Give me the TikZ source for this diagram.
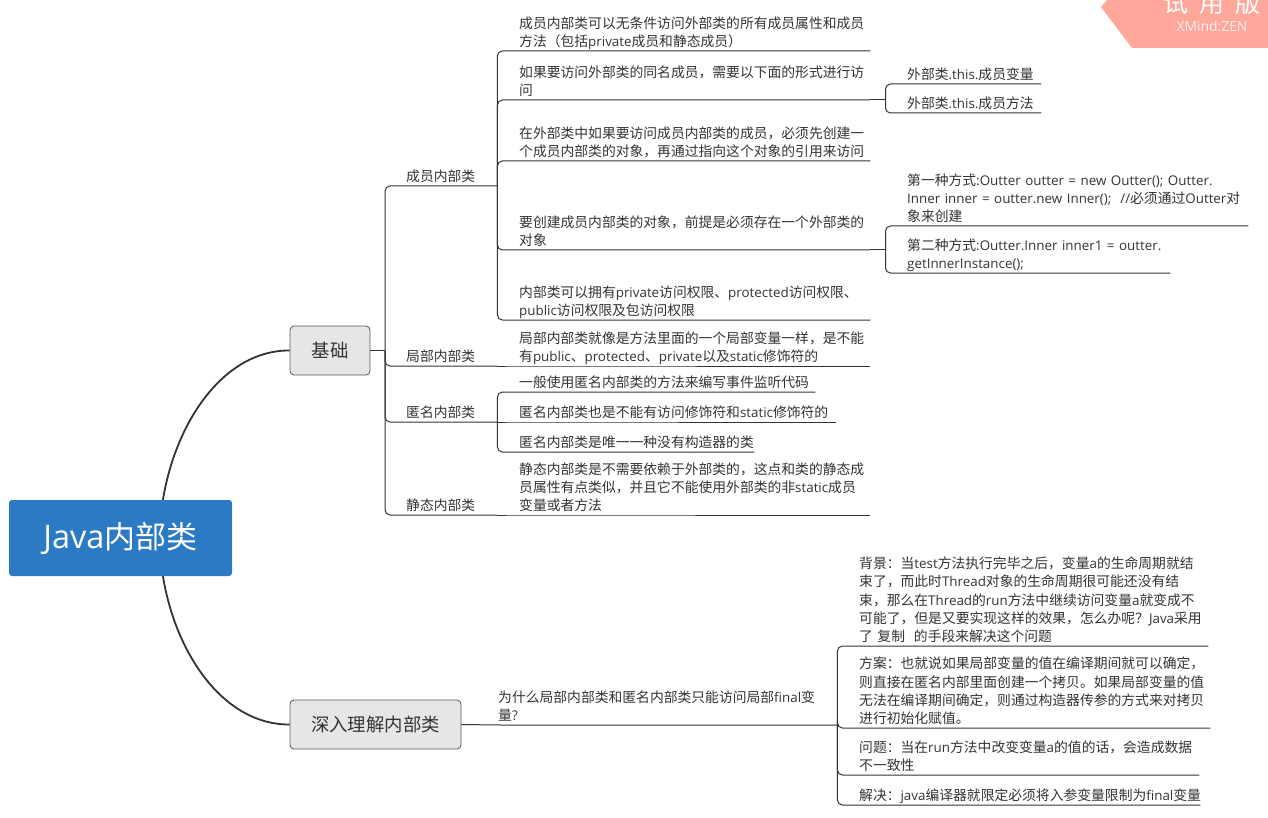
\documentclass[tikz,border=0pt]{standalone}
\usepackage{fontspec}
\setmainfont[Scale=0.97]{Open Sans}
\newfontfamily\cjk{Noto Sans CJK SC}
\usetikzlibrary{positioning}
% CJK characters switch to the CJK family
\newXeTeXintercharclass\cjkclass
\XeTeXinterchartokenstate=1
\newcount\cjkchar
\newcommand{\cjkrange}[2]{%
  \cjkchar=#1
  \loop
    \XeTeXcharclass\cjkchar=\cjkclass
    \advance\cjkchar by 1
  \ifnum\cjkchar<#2 \repeat}
\cjkrange{"3000}{"3040}
\cjkrange{"4E00}{"A000}
\cjkrange{"FF00}{"FF60}
\XeTeXinterchartoks 0 \cjkclass={\begingroup\cjk}
\XeTeXinterchartoks 4095 \cjkclass={\begingroup\cjk}
\XeTeXinterchartoks \cjkclass 0={\endgroup}
\XeTeXinterchartoks \cjkclass 4095={\endgroup}
\definecolor{rootblue}{HTML}{2B7AC3}
\definecolor{inkgray}{HTML}{333333}
\definecolor{boxgray}{HTML}{E6E6E6}
\definecolor{trialred}{HTML}{FFA79B}

\begin{document}
\begin{tikzpicture}[
      x=1pt,
      y=-1pt,
      topic/.style={
        anchor=south west,
        align=left,
        inner sep=0pt,
        execute at end node={\rule[-4pt]{0pt}{0pt}},
        text=inkgray,
        font={\fontsize{13.8}{18.3}\selectfont\lineskiplimit-6pt\relax}
      },
      mainbox/.style={
        draw=black!65,
        line width=.8pt,
        fill=boxgray,
        rounded corners=4pt,
        text=inkgray,
        inner sep=0pt,
        minimum height=49pt,
        font=\fontsize{18.4}{22}\selectfont
      },
      branch/.style={
        draw=inkgray,
        line width=1pt,
        rounded corners=5pt
      },
      curve/.style={
        draw=inkgray,
        line width=1.8pt
      }
    ]
      \useasboundingbox (0,0) rectangle (1268,818);

      % trial ribbon
      \fill[trialred] (1108,-1) -- (1101,7) -- (1132,48) -- (1269,48) -- (1269,-1) -- cycle;
      \node[inner sep=0pt, text=white, font=\fontsize{25}{25}\selectfont] (trial) at (1212,3) {试\hspace{11pt}用\hspace{11pt}版};
      \node[inner sep=0pt, text=white, opacity=.8, font=\fontsize{14.3}{16}\selectfont] (xmind) at (1212,26) {XMind:ZEN};

      % main boxes
      \node[
        fill=rootblue,
        rounded corners=3pt,
        text=white,
        inner sep=0pt,
        minimum width=223pt,
        minimum height=76pt,
        font=\fontsize{31}{36}\selectfont
      ] (root) at (120.5,538) {{\fontsize{33.5}{36}\selectfont Java}内部类};
      \node[mainbox, minimum width=80pt] (base) at (330,350.5) {基础};
      \node[mainbox, minimum width=171pt] (deep) at (375.5,724.5) {深入理解内部类};

      \draw[curve] (root.42.5) .. controls (176,420) and (225,350) .. (base.west);
      \draw[curve] (root.-42.5) .. controls (176,656) and (225,725) .. (deep.west);

      % first level
      \node[topic, text width=91pt] (member) at (406,186) {成员内部类};
      \node[topic, text width=91pt] (local) at (406,366) {局部内部类};
      \node[topic, text width=91pt] (anon) at (406,422) {匿名内部类};
      \node[topic, text width=91pt] (static) at (406,515) {静态内部类};
      \coordinate (basehub) at (385,350.5);

      \draw[branch] (base.east) -- (basehub);
      \draw[branch] (basehub) |- (member.south west) -- (member.south east);
      \draw[branch] (basehub) |- (local.south west) -- (local.south east);
      \draw[branch] (basehub) |- (anon.south west) -- (anon.south east);
      \draw[branch] (basehub) |- (static.south west) -- (static.south east);

      % member children
      \node[topic, text width=351pt] (m1) at (519,51) {成员内部类可以无条件访问外部类的所有成员属性和成员\\方法（包括private成员和静态成员）};
      \node[topic, text width=351pt] (m2) at (519,100) {如果要访问外部类的同名成员，需要以下面的形式进行访\\问};
      \node[topic, text width=351pt] (m3) at (519,161) {在外部类中如果要访问成员内部类的成员，必须先创建一\\个成员内部类的对象，再通过指向这个对象的引用来访问};
      \node[topic, text width=351pt] (m4) at (519,250) {要创建成员内部类的对象，前提是必须存在一个外部类的\\对象};
      \node[topic, text width=351pt] (m5) at (519,320) {内部类可以拥有private访问权限、protected访问权限、\\public访问权限及包访问权限};

      \draw[branch] (member.south east) |- (m1.south west) -- (m1.south east);
      \draw[branch] (member.south east) |- (m2.south west) -- (m2.south east);
      \draw[branch] (member.south east) |- (m3.south west) -- (m3.south east);
      \draw[branch] (member.south east) |- (m4.south west) -- (m4.south east);
      \draw[branch] (member.south east) |- (m5.south west) -- (m5.south east);

      \node[topic, text width=134pt] (w1) at (907,84) {外部类.this.成员变量};
      \node[topic, text width=134pt] (w2) at (907,113) {外部类.this.成员方法};
      \coordinate (m2hub) at (885.5,100);

      \draw[branch] (m2.south east) -- (m2hub);
      \draw[branch] (m2hub) |- (w1.south west) -- (w1.south east);
      \draw[branch] (m2hub) |- (w2.south west) -- (w2.south east);

      \node[topic, text width=341pt] (f1) at (907,226) {第一种方式:Outter outter = new Outter(); Outter.\\Inner inner = outter.new Inner();\ \ //必须通过Outter对\\象来创建};
      \node[topic, text width=263pt] (f2) at (907,273) {第二种方式:Outter.Inner inner1 = outter.\\getInnerInstance();};
      \coordinate (m4hub) at (885.5,250);

      \draw[branch] (m4.south east) -- (m4hub);
      \draw[branch] (m4hub) |- (f1.south west) -- (f1.south east);
      \draw[branch] (m4hub) |- (f2.south west) -- (f2.south east);

      % local child
      \node[topic, text width=351pt] (j1) at (519,366) {局部内部类就像是方法里面的一个局部变量一样，是不能\\有public、protected、private以及static修饰符的};
      \draw[branch] (local.south east) -- (j1.south west) -- (j1.south east);

      % anonymous children
      \node[topic, text width=296pt] (n1) at (519,392) {一般使用匿名内部类的方法来编写事件监听代码};
      \node[topic, text width=317pt] (n2) at (519,422) {匿名内部类也是不能有访问修饰符和static修饰符的};
      \node[topic, text width=235pt] (n3) at (519,452) {匿名内部类是唯一一种没有构造器的类};

      \draw[branch] (anon.south east) |- (n1.south west) -- (n1.south east);
      \draw[branch] (anon.south east) -- (n2.south west) -- (n2.south east);
      \draw[branch] (anon.south east) |- (n3.south west) -- (n3.south east);

      % static child
      \node[topic, text width=351pt] (s1) at (519,515) {静态内部类是不需要依赖于外部类的，这点和类的静态成\\员属性有点类似，并且它不能使用外部类的非static成员\\变量或者方法};
      \draw[branch] (static.south east) -- (s1.south west) -- (s1.south east);

      % deep part
      \node[topic, text width=339pt] (why) at (498,725) {为什么局部内部类和匿名内部类只能访问局部final变\\量?};
      \draw[branch] (deep.east) -- (why.south west) -- (why.south east);

      \node[topic, text width=349pt] (b1) at (859,646) {背景：当test方法执行完毕之后，变量a的生命周期就结\\束了，而此时Thread对象的生命周期很可能还没有结\\束，那么在Thread的run方法中继续访问变量a就变成不\\可能了，但是又要实现这样的效果，怎么办呢？Java采用\\了 复制\ \ 的手段来解决这个问题};
      \node[topic, text width=351pt] (b2) at (859,728) {方案：也就说如果局部变量的值在编译期间就可以确定，\\则直接在匿名内部里面创建一个拷贝。如果局部变量的值\\无法在编译期间确定，则通过构造器传参的方式来对拷贝\\进行初始化赋值。};
      \node[topic, text width=340pt] (b3) at (859,775) {问题：当在run方法中改变变量a的值的话，会造成数据\\不一致性};
      \node[topic, text width=341pt] (b4) at (859,805) {解决：java编译器就限定必须将入参变量限制为final变量};

      \draw[branch] (why.south east) |- (b1.south west) -- (b1.south east);
      \draw[branch] (why.south east) |- (b2.south west) -- (b2.south east);
      \draw[branch] (why.south east) |- (b3.south west) -- (b3.south east);
      \draw[branch] (why.south east) |- (b4.south west) -- (b4.south east);
    \end{tikzpicture}
\end{document}
